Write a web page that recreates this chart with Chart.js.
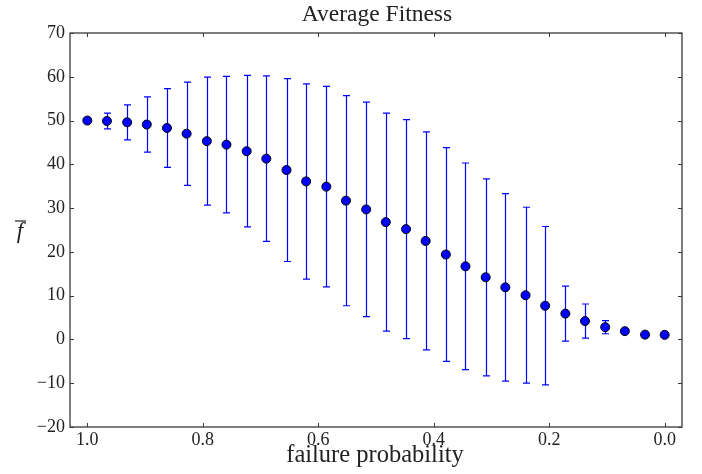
<!DOCTYPE html>
<html><head><meta charset="utf-8">
<script src="https://cdn.jsdelivr.net/npm/chart.js@4.4.0/dist/chart.umd.min.js"></script>
<style>html,body{margin:0;padding:0;background:#fff}#wrap{width:702px;height:474px}</style>
</head><body><div id="wrap"><canvas id="c" width="702" height="474"></canvas></div>
<script>
const failureProb = [1.000, 0.966, 0.931, 0.897, 0.862, 0.828, 0.793, 0.759, 0.724, 0.690,
  0.655, 0.621, 0.586, 0.552, 0.517, 0.483, 0.448, 0.414, 0.379, 0.345,
  0.310, 0.276, 0.241, 0.207, 0.172, 0.138, 0.103, 0.069, 0.034, 0.000];
const meanFitness = [50.0, 49.9, 49.6, 49.1, 48.3, 47.0, 45.3, 44.5, 43.0, 41.3,
  38.7, 36.1, 34.9, 31.7, 29.7, 26.8, 25.2, 22.5, 19.4, 16.7,
  14.2, 11.9, 10.1, 7.7, 5.9, 4.2, 2.8, 1.9, 1.1, 1.05];
const fitnessErr = [0.0, 1.8, 4.0, 6.3, 9.0, 11.8, 14.6, 15.6, 17.3, 18.9,
  20.9, 22.3, 22.9, 24.0, 24.5, 24.9, 25.0, 24.9, 24.4, 23.6,
  22.5, 21.4, 20.1, 18.1, 6.3, 3.9, 1.5, 0.0, 0.0, 0.0];
const xTickValues = [0.0, 0.2, 0.4, 0.6, 0.8, 1.0];
const yTickValues = [-20, -10, 0, 10, 20, 30, 40, 50, 60, 70];
const titleText = 'Average Fitness';
const xLabelText = 'failure probability';
const yLabelText = 'f';

const SERIF = '"Liberation Serif", "DejaVu Serif", serif';
const fmtNum = v => (v < 0 ? '\u2212' + Math.abs(v) : String(v));

const errorBars = {
  id: 'errorBars',
  beforeDatasetsDraw(chart) {
    const ctx = chart.ctx, xs = chart.scales.x, ys = chart.scales.y;
    ctx.save();
    ctx.strokeStyle = '#0000ff';
    ctx.lineWidth = 1.2;
    failureProb.forEach((p, i) => {
      const e = fitnessErr[i];
      if (!e) return;
      const x = Math.round(xs.getPixelForValue(p)) + 0.5;
      const y1 = ys.getPixelForValue(meanFitness[i] + e);
      const y2 = ys.getPixelForValue(meanFitness[i] - e);
      ctx.beginPath();
      ctx.moveTo(x, y1); ctx.lineTo(x, y2);
      ctx.moveTo(x - 3.5, y1); ctx.lineTo(x + 3.5, y1);
      ctx.moveTo(x - 3.5, y2); ctx.lineTo(x + 3.5, y2);
      ctx.stroke();
    });
    ctx.restore();
  }
};

const frame = {
  id: 'frame',
  afterDraw(chart) {
    const ctx = chart.ctx, a = chart.chartArea, xs = chart.scales.x, ys = chart.scales.y;
    ctx.save();
    ctx.strokeStyle = '#3a3a3a';
    ctx.lineWidth = 1.3;
    ctx.strokeRect(a.left, a.top, a.right - a.left, a.bottom - a.top);
    ctx.lineWidth = 1;
    ctx.beginPath();
    xTickValues.forEach(v => {
      const x = Math.round(xs.getPixelForValue(v)) + 0.5;
      ctx.moveTo(x, a.bottom); ctx.lineTo(x, a.bottom - 4);
      ctx.moveTo(x, a.top); ctx.lineTo(x, a.top + 4);
    });
    yTickValues.forEach(v => {
      const y = Math.round(ys.getPixelForValue(v)) + 0.5;
      ctx.moveTo(a.left, y); ctx.lineTo(a.left + 4, y);
      ctx.moveTo(a.right, y); ctx.lineTo(a.right - 4, y);
    });
    ctx.stroke();

    ctx.fillStyle = '#222';
    ctx.textAlign = 'center';
    ctx.textBaseline = 'alphabetic';
    const cx = (a.left + a.right) / 2;
    ctx.font = '23.5px ' + SERIF;
    ctx.fillText(titleText, cx + 1, 21);
    ctx.font = '24.5px ' + SERIF;
    ctx.fillText(xLabelText, cx - 1, 462);
    ctx.font = 'italic 23px ' + SERIF;
    ctx.fillText(yLabelText, 20, 238);
    ctx.strokeStyle = '#222';
    ctx.lineWidth = 1.2;
    ctx.beginPath();
    ctx.moveTo(15, 221); ctx.lineTo(26, 221);
    ctx.stroke();
    ctx.restore();
  }
};

new Chart(document.getElementById('c'), {
  type: 'scatter',
  data: {
    datasets: [{
      data: failureProb.map((p, i) => ({ x: p, y: meanFitness[i] })),
      backgroundColor: '#0000ff',
      borderColor: '#000000',
      borderWidth: 1,
      pointRadius: 4.5,
      showLine: false
    }]
  },
  options: {
    responsive: false,
    animation: false,
    devicePixelRatio: 1,
    layout: { padding: { top: 33, right: 20, left: 0, bottom: 0 } },
    plugins: { legend: { display: false }, title: { display: false }, tooltip: { enabled: false } },
    scales: {
      x: {
        type: 'linear', reverse: true, min: -0.03, max: 1.03,
        afterFit: s => { s.height = 47; },
        grid: { display: false, drawTicks: false },
        border: { display: false },
        ticks: {
          includeBounds: false, stepSize: 0.2, padding: 2,
          color: '#222', font: { family: SERIF, size: 18 },
          maxRotation: 0, autoSkip: false,
          callback: v => Number(v).toFixed(1)
        },
        afterBuildTicks: s => { s.ticks = xTickValues.map(v => ({ value: v })); }
      },
      y: {
        type: 'linear', min: -20, max: 70,
        afterFit: s => { s.width = 70; },
        grid: { display: false, drawTicks: false },
        border: { display: false },
        ticks: {
          stepSize: 10, padding: 5,
          color: '#222', font: { family: SERIF, size: 18 },
          callback: v => fmtNum(v)
        },
        afterBuildTicks: s => { s.ticks = yTickValues.map(v => ({ value: v })); }
      }
    }
  },
  plugins: [errorBars, frame]
});
</script></body></html>
